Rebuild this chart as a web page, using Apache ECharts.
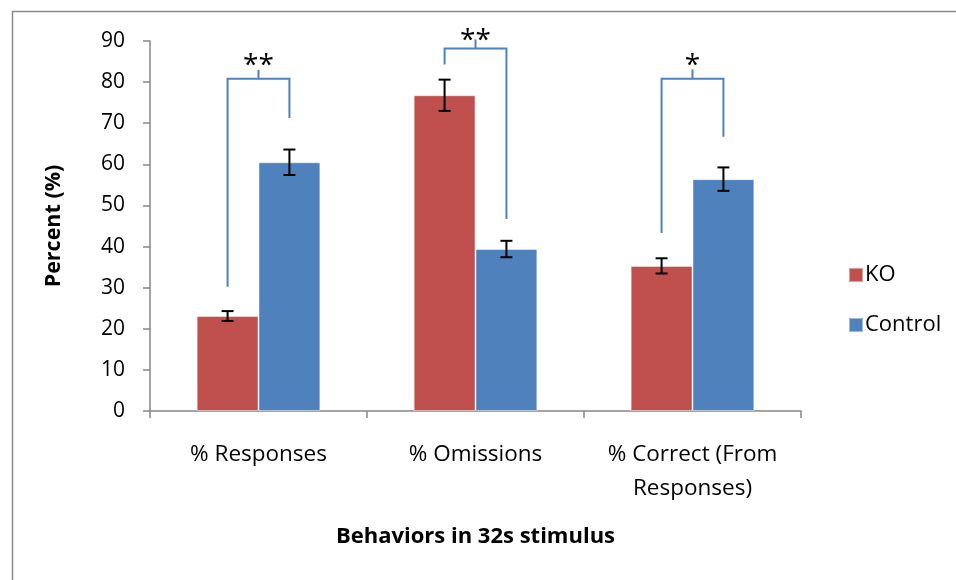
<!DOCTYPE html>
<html>
<head>
<meta charset="utf-8">
<script src="https://cdn.jsdelivr.net/npm/echarts@6/dist/echarts.min.js"></script>
<style>
html,body{margin:0;padding:0;background:#fff;}
#chart{width:956px;height:580px;}
</style>
</head>
<body>
<div id="chart"></div>
<script>
// ---- Data ----
var categories = ['% Responses', '% Omissions', '% Correct (From\nResponses)'];
var seriesNames = ['KO', 'Control'];
var koValues = [23.1, 76.8, 35.3];
var controlValues = [60.5, 39.4, 56.4];
var koErrors = [1.2, 3.8, 1.85];
var controlErrors = [3.1, 2.0, 2.85];
var yTicks = [0, 10, 20, 30, 40, 50, 60, 70, 80, 90];
// significance brackets: [categoryIndex, KO-side bottom, bracket top, Control-side bottom, centre tick top, star position]
var bracketLevels = [
  [0, 30.2, 80.8, 71.3, 83.0, 85.6],
  [1, 84.3, 88.2, 46.7, 90.4, 91.6],
  [2, 43.3, 80.8, 66.7, 83.1, 85.6]
];
var bracketLabels = ['**', '**', '*'];

var KO_COLOR = '#C0504D';
var CTRL_COLOR = '#4F81BD';
var FONT = 'Open Sans';
var CAT_GAP = 0.43;

function barCenter(api, catIdx, which) {
  var c = api.coord([catIdx, 0]);
  var band = api.size([1, 0])[0];
  var bw = band * (1 - CAT_GAP) / 2;
  return which === 0 ? c[0] - bw / 2 : c[0] + bw / 2;
}

function errorData(vals, errs) {
  return vals.map(function (v, i) { return [i, v - errs[i], v + errs[i]]; });
}

function errorSeries(name, vals, errs, which) {
  return {
    type: 'custom',
    name: name + ' error',
    z: 5,
    silent: true,
    data: errorData(vals, errs),
    renderItem: function (params, api) {
      var i = api.value(0);
      var x = barCenter(api, i, which);
      var lo = api.coord([i, api.value(1)])[1];
      var hi = api.coord([i, api.value(2)])[1];
      var cap = 6;
      var st = { stroke: '#000', lineWidth: 2 };
      return {
        type: 'group',
        children: [
          { type: 'line', shape: { x1: x, y1: lo, x2: x, y2: hi }, style: st },
          { type: 'line', shape: { x1: x - cap, y1: lo, x2: x + cap, y2: lo }, style: st },
          { type: 'line', shape: { x1: x - cap, y1: hi, x2: x + cap, y2: hi }, style: st }
        ]
      };
    }
  };
}

var chart = echarts.init(document.getElementById('chart'), null, { renderer: 'canvas' });

var option = {
  animation: false,
  backgroundColor: '#fff',
  textStyle: { fontFamily: FONT },
  graphic: [{
    type: 'rect',
    shape: { x: 12.5, y: 11.5, width: 1200, height: 1200 },
    style: { fill: 'none', stroke: '#898989', lineWidth: 1.5 },
    silent: true
  }],
  grid: { left: 150, right: 155, top: 41, bottom: 169, containLabel: false },
  legend: {
    orient: 'vertical',
    left: 843,
    top: 259,
    itemWidth: 14,
    itemHeight: 14,
    itemGap: 28,
    icon: 'rect',
    data: seriesNames,
    textStyle: { fontFamily: FONT, fontSize: 22, color: '#000', padding: [0, 0, 0, -3] }
  },
  xAxis: {
    type: 'category',
    data: categories,
    name: 'Behaviors in 32s stimulus',
    nameLocation: 'middle',
    nameGap: 115,
    nameTextStyle: { fontFamily: FONT, fontSize: 22, fontWeight: 'bold', color: '#000' },
    axisLine: { lineStyle: { color: '#868686', width: 1.5 } },
    axisTick: { show: true, length: 7, alignWithLabel: false, lineStyle: { color: '#868686', width: 1.5 } },
    axisLabel: { interval: 0, hideOverlap: false, fontFamily: FONT, fontSize: 22.5, color: '#000', margin: 27, lineHeight: 34 }
  },
  yAxis: {
    type: 'value',
    min: 0,
    max: 90,
    interval: 10,
    name: 'Percent (%)',
    nameLocation: 'middle',
    nameGap: 85,
    nameRotate: 90,
    nameTextStyle: { fontFamily: FONT, fontSize: 21.5, fontWeight: 'bold', color: '#000' },
    axisLine: { show: true, lineStyle: { color: '#868686', width: 1.5 } },
    axisTick: { show: true, length: 7, lineStyle: { color: '#868686', width: 1.5 } },
    splitLine: { show: false },
    axisLabel: {
      fontFamily: FONT, fontSize: 21, color: '#000', margin: 25,
      formatter: function (v) { return yTicks.indexOf(v) >= 0 ? String(v) : ''; }
    }
  },
  series: [
    {
      name: 'KO', type: 'bar', data: koValues,
      barGap: '0%', barCategoryGap: (CAT_GAP * 100) + '%',
      itemStyle: { color: KO_COLOR, borderColor: 'rgba(255,255,255,0.45)', borderWidth: 1 }
    },
    {
      name: 'Control', type: 'bar', data: controlValues,
      barGap: '0%', barCategoryGap: (CAT_GAP * 100) + '%',
      itemStyle: { color: CTRL_COLOR, borderColor: 'rgba(255,255,255,0.45)', borderWidth: 1 }
    },
    errorSeries('KO', koValues, koErrors, 0),
    errorSeries('Control', controlValues, controlErrors, 1),
    {
      type: 'custom',
      name: 'brackets',
      z: 6,
      silent: true,
      clip: false,
      data: bracketLevels,
      renderItem: function (params, api) {
        var i = api.value(0);
        var xk = barCenter(api, i, 0);
        var xc = barCenter(api, i, 1);
        var xm = api.coord([i, 0])[0];
        var yLb = api.coord([i, api.value(1)])[1];
        var yTop = api.coord([i, api.value(2)])[1];
        var yRb = api.coord([i, api.value(3)])[1];
        var yTick = api.coord([i, api.value(4)])[1];
        var yStar = api.coord([i, api.value(5)])[1];
        var st = { stroke: CTRL_COLOR, lineWidth: 2, fill: 'none' };
        return {
          type: 'group',
          children: [
            { type: 'polyline', shape: { points: [[xk, yLb], [xk, yTop], [xc, yTop], [xc, yRb]] }, style: st },
            { type: 'line', shape: { x1: xm, y1: yTop, x2: xm, y2: yTick }, style: st },
            {
              type: 'text',
              style: {
                text: bracketLabels[params.dataIndex],
                x: xm, y: yStar + 7,
                align: 'center', verticalAlign: 'middle',
                font: '28px "Open Sans"', fill: '#000'
              }
            }
          ]
        };
      }
    }
  ]
};

chart.setOption(option);
</script>
</body>
</html>
